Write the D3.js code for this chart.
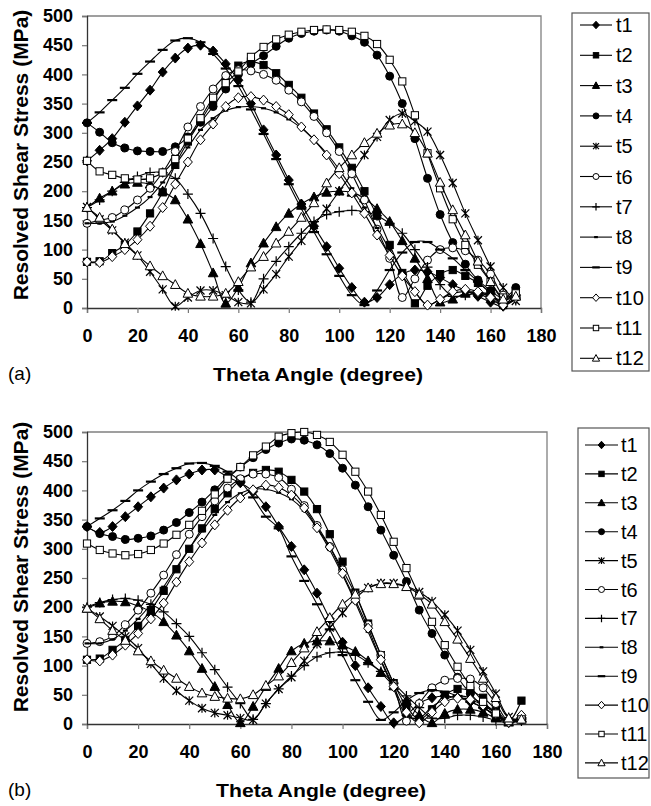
<!DOCTYPE html>
<html><head><meta charset="utf-8">
<script src="https://cdn.jsdelivr.net/npm/d3@7"></script>
<style>body{margin:0;background:#fff} svg{display:block} text{font-family:"Liberation Sans",Arial,sans-serif}</style>
</head><body><svg id="c" width="651" height="806"></svg>
<script>
const angles = d3.range(0, 171, 5);
const seriesNames = ["t1","t2","t3","t4","t5","t6","t7","t8","t9","t10","t11","t12"];
const markerTypes = ["diamondF","squareF","triangleF","circleF","star","circleO","plus","dashS","dashL","diamondO","squareO","triangleO"];
const xTicks = [0,20,40,60,80,100,120,140,160,180];
const yTicks = [0,50,100,150,200,250,300,350,400,450,500];

// panel (a)
const a_t1 = [252,270,290,318,346,373,404,428,445,450,440,418,390,350,305,262,219,178,140,105,68,35,10,18,40,58,65,62,52,40,30,20,10,3,20];
const a_t2 = [79,80,94,108,131,162,198,245,285,320,355,388,415,422,416,402,382,360,333,306,275,240,200,158,108,60,8,38,58,65,55,43,26,5,28];
const a_t3 = [172,188,200,212,215,212,200,185,152,110,60,8,35,77,111,139,162,178,190,198,200,198,188,170,148,115,85,50,10,15,25,28,22,12,28];
const a_t4 = [317,301,283,274,269,268,268,276,293,318,345,375,400,418,432,448,462,470,474,476,474,466,455,433,397,350,290,222,160,112,75,48,30,17,35];
const a_t5 = [173,152,133,112,90,62,32,3,18,30,30,22,10,8,32,58,88,115,142,170,200,230,262,293,322,333,320,302,262,214,162,116,71,35,12];
const a_t6 = [145,150,155,168,185,205,232,268,310,345,375,398,408,406,400,390,373,353,328,300,268,230,185,135,85,18,50,82,100,103,98,82,58,22,18];
const a_t7 = [172,185,200,215,225,232,232,222,195,162,119,71,31,10,50,80,105,128,148,160,165,167,165,158,145,128,100,70,40,20,22,25,20,8,15];
const a_t8 = [145,145,148,158,172,190,215,245,275,305,325,338,344,345,342,335,323,308,288,265,237,205,172,137,100,63,28,5,15,25,28,25,15,5,15];
const a_t9 = [317,335,356,377,401,422,442,458,462,455,435,410,380,340,298,255,212,170,130,92,55,22,5,30,65,95,113,113,100,85,65,45,25,8,15];
const a_t10 = [79,78,88,100,117,140,172,212,250,288,315,345,360,362,356,345,331,310,288,262,230,197,162,125,90,55,28,5,15,28,32,28,18,5,18];
const a_t11 = [252,234,228,222,220,222,232,255,290,325,360,385,405,430,447,460,468,473,476,477,476,473,466,452,425,388,330,265,205,152,108,74,45,18,25];
const a_t12 = [172,155,135,110,90,72,55,40,25,20,20,25,45,70,88,111,131,155,180,214,240,262,283,299,313,315,300,265,215,168,125,80,45,15,20];

// panel (b)
const b_t1 = [338,328,338,355,372,389,404,418,428,435,435,423,413,398,372,338,304,264,224,180,140,100,62,30,2,15,35,45,48,45,38,28,15,3,8];
const b_t2 = [110,112,127,144,168,195,228,265,300,335,368,395,418,430,435,432,418,398,368,325,278,225,172,118,70,30,8,25,50,60,57,45,25,5,40];
const b_t3 = [198,207,210,209,202,192,175,152,125,95,64,33,2,30,64,95,125,138,142,142,135,124,108,88,65,40,15,2,18,25,25,20,10,3,10];
const b_t4 = [338,326,321,316,318,322,332,345,362,380,401,423,440,456,470,481,488,486,478,463,438,409,372,332,289,244,195,155,118,80,52,30,13,4,7];
const b_t5 = [198,184,168,150,130,103,78,57,40,27,19,15,10,7,35,60,80,108,137,165,190,215,233,241,241,236,226,210,187,160,127,90,52,12,8];
const b_t6 = [138,141,150,170,195,224,255,290,325,355,382,404,420,428,428,422,402,374,340,304,264,222,170,118,68,5,35,62,75,78,77,62,35,5,12];
const b_t7 = [200,208,213,215,212,205,192,172,150,122,93,63,35,8,35,60,82,100,115,122,123,118,105,90,70,48,28,10,10,15,15,12,6,2,5];
const b_t8 = [138,138,145,160,180,205,235,268,300,330,358,380,395,402,402,396,385,365,335,298,255,208,158,108,60,15,10,30,42,48,45,35,20,3,10];
const b_t9 = [338,352,366,382,400,415,428,438,446,447,442,432,415,388,355,335,287,245,205,162,118,75,38,7,20,40,53,58,55,48,38,28,15,3,10];
const b_t10 = [110,108,118,135,155,180,207,243,278,310,341,366,387,401,409,405,392,370,336,303,258,212,164,110,64,20,2,20,38,44,42,32,18,3,15];
const b_t11 = [309,298,292,289,291,298,309,324,341,365,393,420,440,460,475,492,498,500,495,483,461,432,398,358,312,267,220,175,135,98,65,38,18,5,8];
const b_t12 = [198,180,160,143,125,108,92,78,64,53,47,44,43,50,66,82,105,130,158,182,205,222,233,240,240,235,222,205,175,145,112,78,45,10,8];

const svg = d3.select("#c");

function marker(g, type, cx, cy, k) {
  const blk = "#000";
  switch (type) {
    case "diamondF": case "diamondO":
      g.append("path").attr("d", `M${cx},${cy-5*k}L${cx+4.5*k},${cy}L${cx},${cy+5*k}L${cx-4.5*k},${cy}Z`)
        .attr("fill", type === "diamondF" ? blk : "#fff").attr("stroke", blk).attr("stroke-width", 1);
      break;
    case "squareF": case "squareO":
      g.append("rect").attr("x", cx-3.6*k).attr("y", cy-3.6*k).attr("width", 7.2*k).attr("height", 7.2*k)
        .attr("fill", type === "squareF" ? blk : "#fff").attr("stroke", blk).attr("stroke-width", 1);
      break;
    case "triangleF": case "triangleO":
      g.append("path").attr("d", `M${cx},${cy-5*k}L${cx+4.8*k},${cy+3.8*k}L${cx-4.8*k},${cy+3.8*k}Z`)
        .attr("fill", type === "triangleF" ? blk : "#fff").attr("stroke", blk).attr("stroke-width", 1);
      break;
    case "circleF": case "circleO":
      g.append("circle").attr("cx", cx).attr("cy", cy).attr("r", 4*k)
        .attr("fill", type === "circleF" ? blk : "#fff").attr("stroke", blk).attr("stroke-width", 1);
      break;
    case "star":
      g.append("path").attr("d", `M${cx-4*k},${cy-4*k}L${cx+4*k},${cy+4*k}M${cx-4*k},${cy+4*k}L${cx+4*k},${cy-4*k}M${cx},${cy-4.5*k}L${cx},${cy+4.5*k}`)
        .attr("stroke", blk).attr("stroke-width", 1.2).attr("fill", "none");
      break;
    case "plus":
      g.append("path").attr("d", `M${cx-5*k},${cy}L${cx+5*k},${cy}M${cx},${cy-5*k}L${cx},${cy+5*k}`)
        .attr("stroke", blk).attr("stroke-width", 1.2).attr("fill", "none");
      break;
    case "dashS":
      g.append("path").attr("d", `M${cx-2.5*k},${cy}L${cx+2.5*k},${cy}`)
        .attr("stroke", blk).attr("stroke-width", 2.2).attr("fill", "none");
      break;
    case "dashL":
      g.append("path").attr("d", `M${cx-5*k},${cy}L${cx+5*k},${cy}`)
        .attr("stroke", blk).attr("stroke-width", 2.2).attr("fill", "none");
      break;
  }
}

const panels = [
  { series: [a_t1,a_t2,a_t3,a_t4,a_t5,a_t6,a_t7,a_t8,a_t9,a_t10,a_t11,a_t12],
    x0: 87, x1: 541, yTop: 16, yBot: 308, tag: "(a)", titleShift: -7,
    leg: { x0: 572, y0: 13, y1: 371, first: 25, step: 30.3, lx0: 580, lx1: 612, tx: 616 } },
  { series: [b_t1,b_t2,b_t3,b_t4,b_t5,b_t6,b_t7,b_t8,b_t9,b_t10,b_t11,b_t12],
    x0: 87, x1: 547, yTop: 432, yBot: 724, tag: "(b)", titleShift: -11,
    leg: { x0: 578, y0: 428, y1: 778, first: 445, step: 28.9, lx0: 585, lx1: 618, tx: 621 } }
];

panels.forEach(p => {
  const x = d3.scaleLinear().domain([0, 180]).range([p.x0, p.x1]);
  const y = d3.scaleLinear().domain([0, 500]).range([p.yBot, p.yTop]);
  const g = svg.append("g");

  g.append("path").attr("d", `M${p.x0},${p.yTop}H${p.x1}V${p.yBot}`)
    .attr("fill", "none").attr("stroke", "#808080").attr("stroke-width", 1.3);

  const xAxis = g.append("g").attr("transform", `translate(0,${p.yBot})`)
    .call(d3.axisBottom(x).tickValues(xTicks).tickSize(5).tickPadding(16).tickFormat(d3.format("d")));
  const yAxis = g.append("g").attr("transform", `translate(${p.x0},0)`)
    .call(d3.axisLeft(y).tickValues(yTicks).tickSize(5).tickPadding(9).tickFormat(d3.format("d")));
  [xAxis, yAxis].forEach(a => {
    a.select(".domain").attr("stroke", "#333").attr("stroke-width", 1.3);
    a.selectAll(".tick line").attr("stroke", "#777").attr("stroke-width", 1.2);
    a.selectAll("text").attr("font-family", "Liberation Sans, Arial, sans-serif")
      .attr("font-size", 18).attr("font-weight", "bold").attr("fill", "#000");
  });

  const line = d3.line().x((d, i) => x(angles[i])).y(d => y(d)).curve(d3.curveCatmullRom.alpha(0.5));
  p.series.forEach((vals, si) => {
    const sg = g.append("g");
    sg.append("path").attr("d", line(vals)).attr("fill", "none").attr("stroke", "#000").attr("stroke-width", 1.1);
    vals.forEach((v, i) => marker(sg, markerTypes[si], x(angles[i]), y(v), 1));
  });

  g.append("text").attr("transform", `translate(28,${(p.yTop + p.yBot) / 2 + p.titleShift}) rotate(-90)`)
    .attr("text-anchor", "middle").attr("font-size", 21).attr("font-weight", "bold")
    .text("Resolved Shear Stress (MPa)");
  g.append("text").attr("x", (p.x0 + p.x1) / 2 + 4).attr("y", p.yBot + 73)
    .attr("text-anchor", "middle").attr("font-size", 19).attr("font-weight", "bold")
    .attr("textLength", 210).attr("lengthAdjust", "spacingAndGlyphs")
    .text("Theta Angle (degree)");
  g.append("text").attr("x", 8).attr("y", p.yBot + 72).attr("font-size", 19).text(p.tag);

  const L = p.leg;
  g.append("rect").attr("x", L.x0).attr("y", L.y0).attr("width", 651 - L.x0 - 2).attr("height", L.y1 - L.y0)
    .attr("fill", "#fff").attr("stroke", "#555").attr("stroke-width", 1.2);
  seriesNames.forEach((nm, i) => {
    const cy = L.first + i * L.step;
    const lg = g.append("g");
    lg.append("path").attr("d", `M${L.lx0},${cy}H${L.lx1}`).attr("stroke", "#000").attr("stroke-width", 1.1);
    marker(lg, markerTypes[i], (L.lx0 + L.lx1) / 2, cy, 0.75);
    lg.append("text").attr("x", L.tx).attr("y", cy + 7).attr("font-size", 20).text(nm);
  });
});
</script></body></html>
